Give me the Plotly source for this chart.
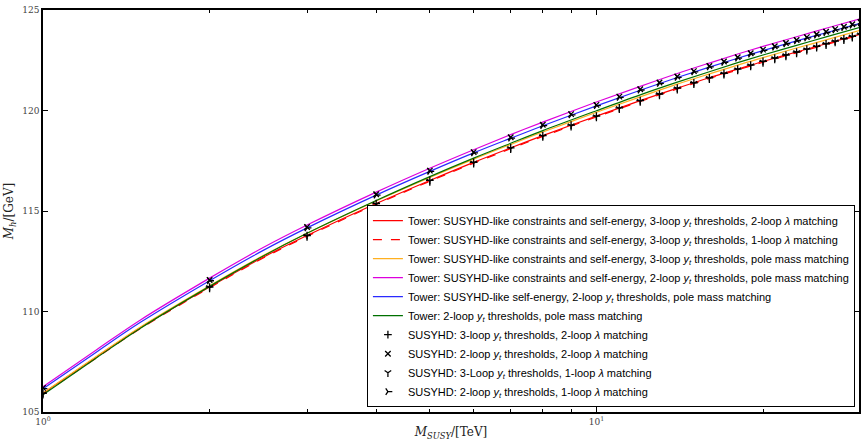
import plotly.graph_objects as go

# ---- data ----
m_line = [1, 1.25, 1.5, 2, 2.5, 3, 4, 5, 6, 7, 8, 10, 12, 14, 16, 18, 20, 23, 26, 30]

tower_3l_2lam = [105.93, 107.74, 109.19, 111.22, 112.70, 113.78, 115.37, 116.52, 117.42, 118.14,
                 118.75, 119.72, 120.49, 121.11, 121.63, 122.06, 122.44, 122.91, 123.32, 123.80]
tower_3l_1lam = [105.89, 107.70, 109.15, 111.18, 112.66, 113.74, 115.33, 116.48, 117.38, 118.10,
                 118.71, 119.68, 120.45, 121.07, 121.59, 122.02, 122.40, 122.87, 123.28, 123.76]
tower_3l_pole = [105.95, 107.77, 109.23, 111.28, 112.78, 113.89, 115.50, 116.67, 117.58, 118.31,
                 118.93, 119.91, 120.68, 121.31, 121.82, 122.26, 122.63, 123.11, 123.51, 123.99]
tower_2l_pole = [106.26, 108.10, 109.58, 111.66, 113.18, 114.30, 115.94, 117.13, 118.05, 118.80,
                 119.42, 120.42, 121.20, 121.84, 122.36, 122.81, 123.19, 123.67, 124.09, 124.57]
tower_se_2l_pole = [106.16, 107.99, 109.46, 111.53, 113.04, 114.16, 115.79, 116.97, 117.89, 118.62,
                    119.24, 120.23, 121.01, 121.64, 122.16, 122.60, 122.98, 123.46, 123.87, 124.34]
tower_plain_2l_pole = [105.86, 107.70, 109.17, 111.25, 112.76, 113.89, 115.52, 116.71, 117.63, 118.37,
                       119.00, 119.99, 120.78, 121.41, 121.93, 122.38, 122.76, 123.24, 123.66, 124.14]

m_pts = list(range(1, 31))
susyhd_3l_2lam = [105.93, 111.22, 113.78, 115.37, 116.52, 117.42, 118.14, 118.75, 119.27, 119.72,
                  120.13, 120.49, 120.82, 121.11, 121.38, 121.63, 121.85, 122.06, 122.26, 122.44,
                  122.61, 122.76, 122.91, 123.05, 123.19, 123.32, 123.45, 123.57, 123.69, 123.80]
susyhd_2l_2lam = [106.20, 111.57, 114.20, 115.83, 117.01, 117.93, 118.67, 119.29, 119.82, 120.28,
                  120.69, 121.06, 121.39, 121.69, 121.96, 122.21, 122.44, 122.65, 122.85, 123.03,
                  123.20, 123.36, 123.51, 123.65, 123.79, 123.92, 124.05, 124.17, 124.29, 124.40]
susyhd_3l_1lam = [105.89, 111.18, 113.74, 115.33, 116.48, 117.38, 118.10, 118.71, 119.23, 119.68,
                  120.09, 120.45, 120.78, 121.07, 121.34, 121.59, 121.81, 122.02, 122.22, 122.40,
                  122.57, 122.72, 122.87, 123.01, 123.15, 123.28, 123.41, 123.53, 123.65, 123.76]
susyhd_2l_1lam = [106.16, 111.53, 114.16, 115.79, 116.97, 117.89, 118.63, 119.25, 119.78, 120.24,
                  120.65, 121.02, 121.35, 121.65, 121.92, 122.17, 122.40, 122.61, 122.81, 122.99,
                  123.16, 123.32, 123.47, 123.61, 123.75, 123.88, 124.01, 124.13, 124.25, 124.36]

yt = "<i>y</i><sub><i>t</i></sub>"
lam = "<i>λ</i>"
line_series = [
    ("Tower: SUSYHD-like constraints and self-energy, 3-loop " + yt + " thresholds, 2-loop " + lam + " matching",
     tower_3l_2lam, "#ff0000", "solid"),
    ("Tower: SUSYHD-like constraints and self-energy, 3-loop " + yt + " thresholds, 1-loop " + lam + " matching",
     tower_3l_1lam, "#ff0000", "dash"),
    ("Tower: SUSYHD-like constraints and self-energy, 3-loop " + yt + " thresholds, pole mass matching",
     tower_3l_pole, "#ffb020", "solid"),
    ("Tower: SUSYHD-like constraints and self-energy, 2-loop " + yt + " thresholds, pole mass matching",
     tower_2l_pole, "#dd00dd", "solid"),
    ("Tower: SUSYHD-like self-energy, 2-loop " + yt + " thresholds, pole mass matching",
     tower_se_2l_pole, "#2a2aff", "solid"),
    ("Tower: 2-loop " + yt + " thresholds, pole mass matching",
     tower_plain_2l_pole, "#007000", "solid"),
]
marker_series = [
    ("SUSYHD: 3-loop " + yt + " thresholds, 2-loop " + lam + " matching", susyhd_3l_2lam, "cross-thin"),
    ("SUSYHD: 2-loop " + yt + " thresholds, 2-loop " + lam + " matching", susyhd_2l_2lam, "x-thin"),
    ("SUSYHD: 3-Loop " + yt + " thresholds, 1-loop " + lam + " matching", susyhd_3l_1lam, "y-down"),
    ("SUSYHD: 2-loop " + yt + " thresholds, 1-loop " + lam + " matching", susyhd_2l_1lam, "y-right"),
]

fig = go.Figure()
for name, vals, col, dash in line_series:
    fig.add_trace(go.Scatter(x=m_line, y=vals, mode="lines", name=name,
                             line=dict(color=col, width=1.2, dash=dash, shape="spline")))
for name, vals, sym in marker_series:
    fig.add_trace(go.Scatter(x=m_pts, y=vals, mode="markers", name=name,
                             marker=dict(symbol=sym, size=5.5, color="black",
                                         line=dict(color="black", width=1.3))))

serif = "DejaVu Serif, Liberation Serif, serif"
fig.update_layout(
    width=861, height=441,
    margin=dict(l=43, r=0, t=10, b=29),
    plot_bgcolor="white", paper_bgcolor="white",
    showlegend=True,
    legend=dict(x=0.995, xanchor="right", y=0.012, yanchor="bottom",
                bgcolor="white", bordercolor="black", borderwidth=1,
                font=dict(family="Liberation Sans, Arial, sans-serif", size=11, color="black"),
                tracegroupgap=0, itemwidth=30),
)
fig.update_xaxes(
    type="log", range=[0, 1.4745],
    showline=True, linecolor="black", linewidth=1.5, mirror="allticks",
    ticks="inside", ticklen=5, tickcolor="black",
    tickvals=[1, 10], ticktext=["10<sup>0</sup>", "10<sup>1</sup>"],
    minor=dict(tickvals=[2, 3, 4, 5, 6, 7, 8, 9, 20, 30], ticks="inside", ticklen=3,
               tickcolor="black", showgrid=False),
    showgrid=False, zeroline=False,
    tickfont=dict(family=serif, size=9, color="#444"),
    title=dict(text="<i>M</i><sub><i>SUSY</i></sub>/[TeV]",
               font=dict(family=serif, size=12, color="#222"), standoff=6),
)
fig.update_yaxes(
    range=[105, 125],
    showline=True, linecolor="black", linewidth=1.5, mirror="allticks",
    ticks="inside", ticklen=5, tickcolor="black",
    tickvals=[105, 110, 115, 120, 125],
    showgrid=False, zeroline=False,
    tickfont=dict(family=serif, size=9, color="#444"),
    title=dict(text="<i>M</i><sub><i>h</i></sub>/[GeV]",
               font=dict(family=serif, size=12, color="#222"), standoff=6),
)

fig.write_html("out.html")
